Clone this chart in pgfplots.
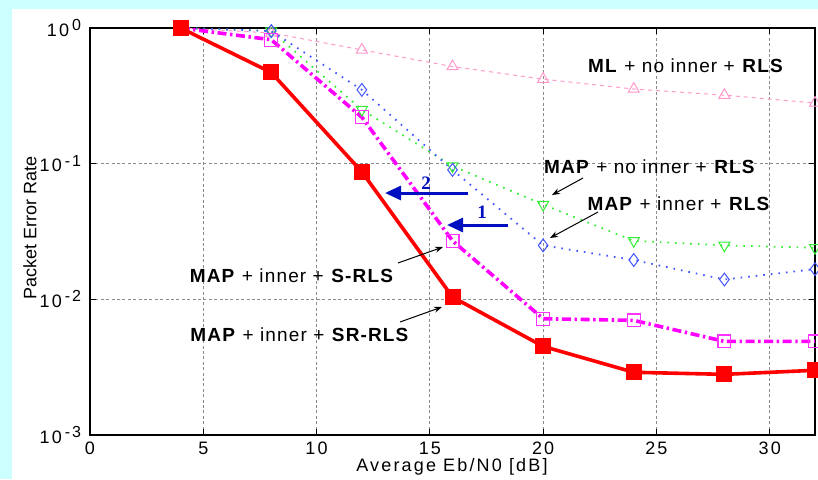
\documentclass[border=0pt]{standalone}
\usepackage{fontspec}
\setmainfont{Liberation Sans}
\newfontfamily\annfont[LetterSpace=6]{Liberation Sans}
\newfontfamily\labfont[LetterSpace=12]{Liberation Sans}
\newfontfamily\tickfont[LetterSpace=12]{Liberation Sans}
\newfontfamily\numfont{Liberation Serif}
\usepackage{pgfplots}
\pgfplotsset{compat=1.18}
\usetikzlibrary{arrows.meta}
\definecolor{bgcyan}{HTML}{CCFFFF}
\definecolor{mlpink}{HTML}{FF99CC}
\definecolor{mapgreen}{HTML}{33EE33}
\definecolor{mapblue}{HTML}{4455FF}
\definecolor{arrblue}{HTML}{0010C0}
\definecolor{mag}{HTML}{FF00FF}
\newcommand{\ee}[1]{10\,\raisebox{0.6ex}{\fontsize{8}{8}\selectfont\tickfont #1}}
\begin{document}
\begin{tikzpicture}
\useasboundingbox (0,0) rectangle (409pt,239.5pt);
\fill[bgcyan] (0,0) rectangle (409pt,239.5pt);
\fill[white] (6pt,0) rectangle (409pt,235pt);
\begin{axis}[
  at={(45pt,22pt)}, anchor=south west,
  scale only axis, width=362.5pt, height=203.5pt,
  ymode=log, log basis y=10,
  xmin=0, xmax=32, ymin=1e-3, ymax=1,
  xtick={0,5,...,30},
  ytick={1e-3,1e-2,1e-1,1},
  yticklabels={{\ee{-3}},{\ee{-2}},{\ee{-1}},{\ee{0}}},
  /pgf/number format/assume math mode=true,
  tick align=inside, major tick length=3pt, minor tick length=1.5pt,
  xtick pos=both, ytick pos=both,
  grid=major,
  major grid style={dash pattern=on 1.5pt off 1.2pt, gray!90, line width=0.45pt},
  axis line style={line width=1pt},
  tick style={black, line width=0.5pt},
  tick label style={font=\fontsize{9}{10}\selectfont\tickfont},
  yticklabel style={xshift=-1pt},
  clip=false,
]
\addplot[mlpink, dash pattern=on 2pt off 2pt, line width=0.5pt, mark=triangle, mark size=3.2pt, mark options={solid, line width=0.5pt}]
 coordinates {(4,1)(8,0.92)(12,0.69)(16,0.52)(20,0.42)(24,0.355)(28,0.32)(32,0.28)};
\addplot[mapgreen, dash pattern=on 0.8pt off 3pt, line width=0.9pt, mark=triangle, mark size=3.2pt, mark options={solid, rotate=180, line width=0.5pt}]
 coordinates {(4,1)(8,0.95)(12,0.25)(16,0.096)(20,0.05)(24,0.027)(28,0.025)(32,0.024)};
\addplot[mapblue, dash pattern=on 0.8pt off 3pt, line width=0.9pt, mark=diamond, mark size=3.2pt, mark options={solid, line width=0.5pt}]
 coordinates {(4,1)(8,0.95)(12,0.35)(16,0.09)(20,0.025)(24,0.0195)(28,0.014)(32,0.0167)};
\addplot[mag, dash pattern=on 4.5pt off 1.8pt on 1.2pt off 1.8pt, line width=1.8pt, mark=square, mark size=3.2pt, mark options={solid, line width=0.6pt, fill=white, draw=mag!80}]
 coordinates {(4,1)(8,0.82)(12,0.22)(16,0.027)(20,0.0072)(24,0.007)(28,0.0049)(32,0.0049)};
\addplot[red, solid, line width=1.8pt, mark=square*, mark size=3.1pt]
 coordinates {(4,1)(8,0.47)(12,0.087)(16,0.0104)(20,0.0045)(24,0.0029)(28,0.0028)(32,0.003)};
\end{axis}
\begin{scope}[x=0.5pt, y=-0.5pt, shift={(0,239.5pt)}]
  \node[font=\fontsize{9}{10}\selectfont\labfont] at (452,467) {Average Eb/N0 [dB]};
  \node[font=\fontsize{9}{10}\selectfont, rotate=90] at (30,228) {Packet Error Rate};
  \begin{scope}[font=\fontsize{9.5}{11}\selectfont\annfont]
    \node at (686,66) {\textbf{ML} + no inner + \textbf{RLS}};
    \node at (650,167) {\textbf{MAP} + no inner + \textbf{RLS}};
    \node at (679,204) {\textbf{MAP} + inner + \textbf{RLS}};
    \node at (292,276) {\textbf{MAP} + inner + \textbf{S-RLS}};
    \node at (300,335) {\textbf{MAP} + inner + \textbf{SR-RLS}};
  \end{scope}
  \draw[-{Stealth[length=4pt,width=3pt]}, line width=0.5pt] (583,178) -- (552,195);
  \draw[-{Stealth[length=4pt,width=3pt]}, line width=0.5pt] (598,212) -- (550,238);
  \draw[-{Stealth[length=4pt,width=3pt]}, line width=0.5pt] (398,263) -- (443,247);
  \draw[-{Stealth[length=4pt,width=3pt]}, line width=0.5pt] (400,322) -- (442,307);
  \draw[arrblue, line width=1.5pt, -{Triangle[length=8pt,width=7pt]}] (468,193) -- (385,193);
  \draw[arrblue, line width=1.5pt, -{Triangle[length=8pt,width=7pt]}] (508,225) -- (447,225);
  \node[arrblue, font=\fontsize{9.5}{10}\selectfont\numfont\bfseries] at (426,183) {2};
  \node[arrblue, font=\fontsize{9.5}{10}\selectfont\numfont\bfseries] at (482,212) {1};
\end{scope}
\end{tikzpicture}
\end{document}
